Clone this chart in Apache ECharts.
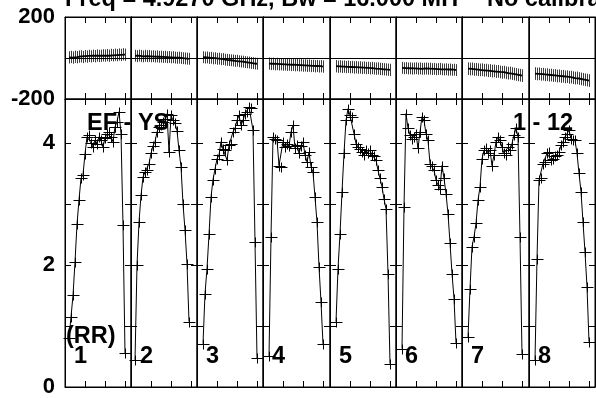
<!DOCTYPE html>
<html>
<head>
<meta charset="utf-8">
<script src="https://cdn.jsdelivr.net/npm/echarts@6/dist/echarts.min.js"></script>
<style>
html,body{margin:0;padding:0;background:#fff}
#plot{width:596px;height:398px}
</style>
</head>
<body>
<div id="plot"></div>
<script>
// IF panel numbers and the first channel plotted in each IF
var ifNames = ['1', '2', '3', '4', '5', '6', '7', '8'];
var firstChan = [2, 2, 3, 3, 3, 3, 3, 3];

// amplitude per channel (RR), one list per IF
var amp1 = [0.80, 1.15, 1.50, 2.05, 2.67, 3.07, 3.42, 3.48, 3.82, 4.10, 4.13, 4.00, 3.93, 4.05, 3.99, 4.10, 4.04, 3.93, 4.08, 4.15, 4.18, 4.10, 4.02, 4.26, 4.35, 4.51, 4.15, 2.65, 0.55];
var amp2 = [0.44, 2.00, 2.70, 3.14, 3.44, 3.52, 3.55, 3.66, 3.83, 3.95, 4.02, 4.18, 4.26, 4.30, 4.34, 4.40, 4.48, 3.85, 4.45, 4.37, 4.32, 4.20, 3.88, 3.61, 3.00, 2.57, 2.02, 1.07];
var amp3 = [0.71, 1.53, 1.94, 2.50, 3.11, 3.40, 3.57, 3.74, 3.80, 4.02, 3.90, 3.88, 3.72, 3.96, 3.99, 4.18, 4.24, 4.37, 4.45, 4.29, 4.37, 4.48, 4.51, 4.59, 4.58, 4.21, 2.38, 0.47];
var amp4 = [0.50, 2.46, 4.10, 4.07, 4.05, 3.63, 3.61, 4.02, 3.93, 3.99, 3.95, 4.18, 4.29, 3.91, 3.97, 3.83, 3.95, 4.02, 3.80, 3.69, 3.85, 3.61, 3.52, 3.11, 2.70, 1.97, 1.39, 0.70];
var amp5 = [1.07, 1.94, 2.51, 3.20, 3.83, 4.37, 4.56, 4.45, 4.43, 4.15, 3.99, 3.93, 3.90, 3.85, 3.80, 3.88, 3.84, 3.88, 3.80, 3.78, 3.72, 3.55, 3.42, 3.28, 3.08, 2.92, 1.86, 0.38];
var amp6 = [0.63, 2.95, 4.48, 4.24, 4.13, 4.07, 4.10, 4.15, 3.91, 4.18, 4.43, 4.37, 4.15, 4.04, 3.66, 3.63, 3.55, 3.39, 3.31, 3.25, 3.63, 3.42, 3.17, 2.84, 2.36, 1.86, 1.45, 0.72];
var amp7 = [0.82, 1.61, 2.30, 2.46, 2.68, 3.06, 3.28, 3.74, 3.88, 3.92, 3.83, 3.88, 3.63, 3.80, 4.02, 4.10, 4.04, 3.93, 3.83, 3.80, 3.93, 3.88, 3.99, 4.13, 4.24, 4.10, 2.46, 0.54];
var amp8 = [0.44, 2.10, 3.39, 3.42, 3.66, 3.69, 3.83, 3.85, 3.72, 3.74, 3.78, 3.80, 3.85, 3.96, 4.02, 4.10, 4.15, 4.21, 4.07, 4.04, 4.04, 3.83, 3.50, 3.20, 2.70, 2.21, 1.64, 0.74];

// phase per channel (degrees), one list per IF
var phs1 = [3, 5, 2, 6, 4, 7, 8, 5, 9, 7, 10, 8, 11, 9, 12, 10, 11, 13, 12, 14, 11, 15, 13, 16, 14, 17, 15, 18, 16];
var phs2 = [11, 9, 12, 10, 8, 11, 9, 10, 8, 9, 7, 8, 6, 7, 5, 6, 4, 5, 3, 4, 2, 1, 2, 0, -1, -2, -3, -4];
var phs3 = [4, 2, 3, 0, 1, -2, -1, -4, -3, -6, -5, -8, -9, -10, -11, -12, -14, -13, -16, -17, -18, -20, -21, -22, -24, -25, -27, -28];
var phs4 = [-27, -29, -28, -30, -29, -31, -30, -32, -31, -33, -32, -34, -33, -35, -34, -36, -35, -37, -36, -38, -37, -39, -38, -40, -39, -41, -40, -42];
var phs5 = [-40, -42, -41, -43, -42, -44, -43, -45, -44, -46, -45, -47, -46, -48, -47, -49, -48, -50, -49, -51, -52, -51, -53, -54, -55, -56, -57, -58];
var phs6 = [-48, -50, -49, -51, -50, -52, -51, -50, -52, -51, -53, -52, -51, -53, -52, -54, -53, -55, -54, -53, -55, -56, -55, -57, -56, -58, -57, -59];
var phs7 = [-52, -54, -53, -56, -55, -57, -58, -57, -60, -59, -62, -61, -64, -63, -66, -65, -68, -70, -69, -72, -74, -73, -76, -78, -80, -82, -84, -86];
var phs8 = [-76, -78, -77, -80, -79, -82, -81, -84, -83, -86, -85, -88, -87, -90, -89, -92, -91, -94, -93, -96, -98, -97, -100, -102, -104, -106, -108, -110];

// phase error half-width (degrees) per IF
var phsErr = [30, 29, 29, 30, 30, 29, 31, 31];

// axis labels
var phsTicks = [-200, 200];
var ampTicks = [0, 2, 4];

var ampList = [amp1, amp2, amp3, amp4, amp5, amp6, amp7, amp8];
var phsList = [phs1, phs2, phs3, phs4, phs5, phs6, phs7, phs8];

var chart = echarts.init(document.getElementById('plot'));
var font = '"Liberation Sans", Arial, Helvetica, sans-serif';

var panelLeft = [65, 131, 197, 263, 330, 396, 462, 529];
var panelRight = 595;

var grids = [], xAxes = [], yAxes = [], series = [];

function addGrid(left, width, top, height) {
    grids.push({
        left: left, width: width, top: top, height: height,
        show: true, borderColor: '#000', borderWidth: 1,
        containLabel: false, outerBoundsMode: 'none'
    });
    return grids.length - 1;
}

function addX(g, maxVal) {
    ['bottom', 'top'].forEach(function (pos) {
        xAxes.push({
            gridIndex: g, type: 'value', position: pos,
            min: 0, max: maxVal, interval: 10,
            axisLine: {show: true, onZero: false, lineStyle: {color: '#000', width: 1}},
            axisTick: {show: true, inside: true, length: 6, lineStyle: {color: '#000', width: 1}},
            axisLabel: {show: false},
            splitLine: {show: false}
        });
    });
}

function addY(g, mn, mx, step, labels, showLabels) {
    ['left', 'right'].forEach(function (pos) {
        yAxes.push({
            gridIndex: g, type: 'value', position: pos,
            min: mn, max: mx, interval: step,
            axisLine: {show: true, onZero: false, lineStyle: {color: '#000', width: 1}},
            axisTick: {show: true, inside: true, length: 6, lineStyle: {color: '#000', width: 1}},
            axisLabel: {
                show: showLabels && pos === 'left',
                margin: 10,
                padding: [4, 0, 0, 0],
                color: '#000',
                fontFamily: font, fontWeight: 'bold', fontSize: 22,
                showMinLabel: true, showMaxLabel: true,
                formatter: function (v) { return labels.indexOf(v) >= 0 ? String(v) : ''; }
            },
            splitLine: {show: false}
        });
    });
}

for (var k = 0; k < 8; k++) {
    var left = panelLeft[k];
    var right = k < 7 ? panelLeft[k + 1] : panelRight;
    var w = right - left;
    var xMax = w / 2;

    // phase panel
    var gp = addGrid(left, w, 17, 82);
    addX(gp, xMax);
    addY(gp, -200, 200, 200, phsTicks, k === 0);
    // amplitude panel
    var ga = addGrid(left, w, 99, 288);
    addX(ga, xMax);
    addY(ga, 0, 4.72, 1, ampTicks, k === 0);

    var ampData = ampList[k].map(function (v, i) { return [firstChan[k] + i, v]; });
    var phsData = phsList[k].map(function (v, i) { return [firstChan[k] + i, v, phsErr[k]]; });

    series.push({
        type: 'custom',
        coordinateSystem: 'cartesian2d',
        xAxisIndex: gp * 2, yAxisIndex: gp * 2,
        encode: {x: 0, y: 1},
        silent: true,
        data: phsData,
        renderItem: function (params, api) {
            var lo = api.coord([api.value(0), api.value(1) - api.value(2)]);
            var hi = api.coord([api.value(0), api.value(1) + api.value(2)]);
            var x = Math.round(lo[0]) + 0.5;
            return {
                type: 'line',
                shape: {x1: x, y1: lo[1], x2: x, y2: hi[1]},
                style: {stroke: '#3c3c3c', lineWidth: 1}
            };
        }
    });
    series.push({
        type: 'line',
        xAxisIndex: gp * 2, yAxisIndex: gp * 2,
        data: phsData.map(function (d) { return [d[0], d[1]]; }),
        showSymbol: false,
        silent: true,
        lineStyle: {color: '#000', width: 1.8},
        markLine: {
            silent: true, symbol: 'none', animation: false,
            label: {show: false},
            lineStyle: {color: '#000', width: 1, type: 'solid'},
            data: [{yAxis: 0}]
        }
    });
    series.push({
        type: 'line',
        xAxisIndex: ga * 2, yAxisIndex: ga * 2,
        data: ampData,
        showSymbol: false,
        silent: true,
        lineStyle: {color: '#000', width: 1}
    });
    series.push({
        type: 'custom',
        coordinateSystem: 'cartesian2d',
        xAxisIndex: ga * 2, yAxisIndex: ga * 2,
        encode: {x: 0, y: 1},
        silent: true,
        data: ampData,
        renderItem: function (params, api) {
            var c = api.coord([api.value(0), api.value(1)]);
            var x = Math.round(c[0]) + 0.5, y = Math.round(c[1]) + 0.5;
            return {
                type: 'group',
                children: [
                    {type: 'line', shape: {x1: x - 6, y1: y, x2: x + 6, y2: y}, style: {stroke: '#000', lineWidth: 1}},
                    {type: 'line', shape: {x1: x, y1: y - 5, x2: x, y2: y + 5}, style: {stroke: '#000', lineWidth: 1}}
                ]
            };
        }
    });
}

var bigFont = 'bold 23.5px ' + font;
var texts = [
    {x: 65, y: 0, text: 'Freq = 4.9270 GHz, Bw = 16.000 MH'},
    {x: 487, y: 0, text: 'No calibra'},
    {x: 87, y: 124, text: 'EF - YS'},
    {x: 513, y: 124, text: '1 - 12'},
    {x: 66, y: 337, text: '(RR)'}
];
ifNames.forEach(function (n, i) {
    texts.push({x: panelLeft[i] + 9, y: 356.5, text: n});
});

var option = {
    animation: false,
    backgroundColor: '#fff',
    grid: grids,
    xAxis: xAxes,
    yAxis: yAxes,
    series: series,
    graphic: texts.map(function (t) {
        return {
            type: 'text', x: t.x, y: t.y, silent: true, z: 100,
            style: {text: t.text, font: bigFont, fill: '#000', align: 'left', verticalAlign: 'middle'}
        };
    })
};
chart.setOption(option);
</script>
</body>
</html>
